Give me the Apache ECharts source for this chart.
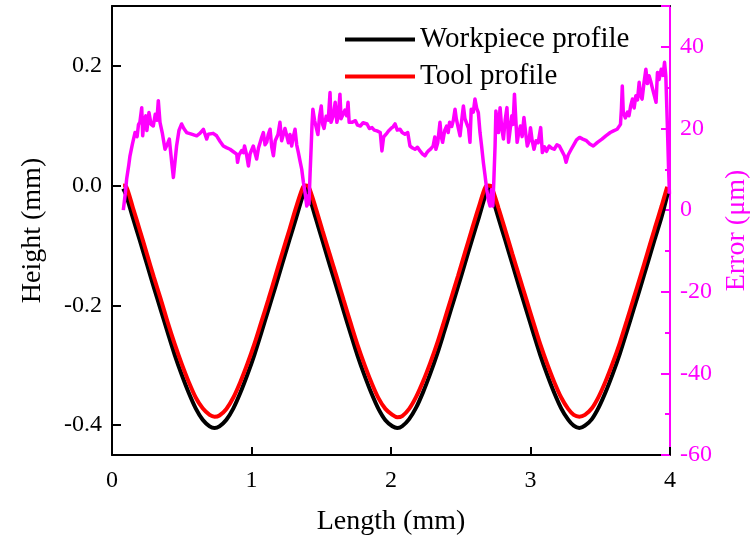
<!DOCTYPE html>
<html>
<head>
<meta charset="utf-8">
<script src="https://cdn.jsdelivr.net/npm/echarts@6/dist/echarts.min.js"></script>
<style>html,body{margin:0;padding:0;background:#fff}#c{width:751px;height:541px}</style>
</head>
<body>
<div id="c"></div>
<script>
// ---- data ----
const xTicks = [0, 1, 2, 3, 4];
const heightTicks = [-0.4, -0.2, 0.0, 0.2];
const errorTicks = [-60, -40, -20, 0, 20, 40];

const workX = [0.08,0.10,0.15,0.20,0.25,0.30,0.35,0.40,0.45,0.50,0.55,0.60,0.65,0.70,0.735,0.77,0.82,0.87,0.92,0.97,1.02,1.07,1.12,1.17,1.22,1.27,1.32,1.37,1.39,
  1.41,1.46,1.51,1.56,1.61,1.66,1.71,1.76,1.81,1.86,1.91,1.96,2.01,2.045,2.08,2.13,2.18,2.23,2.28,2.33,2.38,2.43,2.48,2.53,2.58,2.63,2.68,2.70,
  2.72,2.77,2.82,2.87,2.92,2.97,3.02,3.07,3.12,3.17,3.22,3.27,3.31,3.35,3.39,3.44,3.49,3.54,3.59,3.64,3.69,3.74,3.79,3.84,3.89,3.94,3.985];
const workY = [-0.005,-0.015,-0.054,-0.092,-0.131,-0.170,-0.208,-0.246,-0.283,-0.316,-0.346,-0.372,-0.391,-0.402,-0.405,-0.402,-0.391,-0.372,-0.346,-0.316,-0.283,-0.246,-0.208,-0.170,-0.131,-0.092,-0.054,-0.015,-0.005,
  -0.015,-0.054,-0.093,-0.132,-0.170,-0.209,-0.247,-0.284,-0.317,-0.347,-0.373,-0.392,-0.402,-0.405,-0.402,-0.390,-0.371,-0.345,-0.315,-0.282,-0.245,-0.207,-0.169,-0.130,-0.091,-0.053,-0.014,-0.005,
  -0.015,-0.054,-0.092,-0.131,-0.170,-0.208,-0.246,-0.283,-0.316,-0.346,-0.372,-0.391,-0.401,-0.405,-0.401,-0.390,-0.370,-0.344,-0.314,-0.281,-0.244,-0.206,-0.168,-0.129,-0.090,-0.052,-0.012];

const toolX = [0.08,0.10,0.15,0.20,0.25,0.30,0.35,0.40,0.45,0.50,0.55,0.60,0.65,0.70,0.735,0.77,0.82,0.87,0.92,0.97,1.02,1.07,1.12,1.17,1.22,1.27,1.32,1.37,1.39,
  1.41,1.46,1.51,1.56,1.61,1.66,1.71,1.76,1.81,1.86,1.91,1.96,2.01,2.045,2.08,2.13,2.18,2.23,2.28,2.33,2.38,2.43,2.48,2.53,2.58,2.63,2.68,2.70,
  2.72,2.77,2.82,2.87,2.92,2.97,3.02,3.07,3.12,3.17,3.22,3.27,3.31,3.35,3.39,3.44,3.49,3.54,3.59,3.64,3.69,3.74,3.79,3.84,3.89,3.94,3.98];
const toolY = [0.000,-0.001,-0.037,-0.075,-0.114,-0.153,-0.190,-0.229,-0.265,-0.298,-0.328,-0.354,-0.372,-0.383,-0.386,-0.384,-0.373,-0.354,-0.328,-0.298,-0.265,-0.228,-0.191,-0.152,-0.113,-0.075,-0.036,-0.002,0.000,
  -0.002,-0.037,-0.076,-0.114,-0.152,-0.191,-0.229,-0.266,-0.299,-0.329,-0.355,-0.373,-0.383,-0.387,-0.385,-0.373,-0.353,-0.327,-0.297,-0.264,-0.227,-0.189,-0.151,-0.112,-0.073,-0.035,-0.001,0.000,
  -0.002,-0.037,-0.075,-0.114,-0.152,-0.190,-0.228,-0.265,-0.298,-0.328,-0.354,-0.373,-0.383,-0.386,-0.383,-0.372,-0.352,-0.326,-0.296,-0.263,-0.226,-0.188,-0.150,-0.111,-0.072,-0.034,-0.002];

const errX = [0.081,0.095,0.105,0.12,0.129,0.145,0.165,0.18,0.19,0.2,0.213,0.22,0.23,0.242,0.25,0.265,0.28,0.296,0.31,0.322,0.332,0.344,0.36,0.38,0.395,0.411,0.428,0.44,0.452,0.463,0.48,0.499,0.515,0.535,0.57,0.607,0.63,0.655,0.668,0.679,0.69,0.703,0.725,0.75,0.775,0.798,0.82,0.846,0.87,0.894,0.90,0.91,0.93,0.942,0.95,0.965,0.978,0.99,1.013,1.025,1.037,1.05,1.07,1.085,1.097,1.109,1.12,1.133,1.145,1.157,1.17,1.19,1.204,1.216,1.228,1.24,1.252,1.265,1.276,1.288,1.30,1.312,1.324,1.336,1.348,1.36,1.372,1.384,1.396,1.405,1.412,1.42,1.428,1.434,1.44,1.452,1.464,1.476,1.488,1.50,1.51,1.52,1.535,1.55,1.563,1.57,1.585,1.60,1.612,1.622,1.634,1.642,1.655,1.67,1.682,1.692,1.70,1.72,1.745,1.76,1.78,1.80,1.828,1.845,1.864,1.88,1.90,1.923,1.935,1.947,1.965,1.982,2.0,2.015,2.029,2.045,2.065,2.08,2.1,2.12,2.136,2.155,2.172,2.19,2.208,2.225,2.244,2.256,2.268,2.285,2.302,2.314,2.322,2.335,2.351,2.36,2.37,2.385,2.399,2.41,2.42,2.435,2.447,2.459,2.468,2.483,2.495,2.507,2.519,2.53,2.545,2.556,2.566,2.575,2.59,2.602,2.614,2.626,2.638,2.65,2.662,2.674,2.686,2.698,2.71,2.72,2.73,2.738,2.746,2.752,2.758,2.77,2.782,2.794,2.806,2.818,2.831,2.843,2.855,2.866,2.875,2.885,2.895,2.904,2.916,2.928,2.94,2.953,2.965,2.977,2.99,3.0,3.012,3.025,3.04,3.055,3.073,3.085,3.10,3.115,3.134,3.15,3.17,3.19,3.207,3.225,3.243,3.255,3.27,3.292,3.31,3.33,3.352,3.375,3.401,3.425,3.45,3.48,3.512,3.54,3.572,3.595,3.621,3.645,3.652,3.658,3.665,3.68,3.695,3.706,3.718,3.731,3.743,3.755,3.767,3.779,3.79,3.80,3.813,3.827,3.838,3.85,3.862,3.875,3.888,3.90,3.91,3.922,3.937,3.95,3.961,3.97,3.98,3.99,3.996];
const errY = [0,4,7.6,11,13.3,16,19,18,21,21.5,25.1,18.2,22,23.1,19.5,23.9,21,20.6,23.5,22,26.8,21.5,19,14.9,16,17.4,11.7,8.0,12,15.7,19.5,21.1,20,19.0,18.6,18.2,18.8,19.8,18.5,17.4,18.6,19.0,18.8,18.2,16.8,15.7,15.3,14.9,14.3,13.7,11.7,13.5,14.6,14.1,15.7,13.5,10.8,13.8,15.7,14,12.5,15.2,17.5,19.0,16,16.6,18.5,19.8,15.5,13.3,17,18.5,21.5,17,17.4,20,19.8,16.5,18.5,15.7,18,19.8,16,14.1,12,10.0,6.8,4.3,1.0,3.5,1.5,9,15.7,21,24.7,22,22.4,18.5,23,25.5,21,20,23,22,28.8,21.5,23,26.4,21.5,23,28.4,22.4,22,24.5,23.1,26.4,21.5,21.5,21.9,20.8,20.6,21.4,21.1,20,20.2,19.6,19.4,19.0,14.5,17.9,18.6,19.4,20,20.4,21.1,19.6,19.8,19,18.6,19,15.7,15.2,14.9,15.4,14.5,13.8,13.3,14,14.5,15,15.7,17.9,14.9,16.5,21.5,18,16.6,19.5,20.6,19,21.5,20.5,22,24.7,22.4,20,18.2,22,25.5,22.4,21,20,16.6,24.7,24,27.2,25,23.9,19.0,15.5,11.7,8.5,5.1,2.5,1.0,5,1.0,8,15.7,24.3,24.7,19.0,25.1,20,17.4,22,25.1,16.6,20,23.1,21,28.4,22,16.6,19,20.6,18,22.7,19,15.7,17,20.2,17,14.9,17,16.5,20.2,14.1,15.5,14.4,15.7,15.2,14.9,16,15.7,14.5,13.3,11.7,13.5,14.9,16,17.2,17.8,17.4,17.0,16.2,15.7,16.6,17.4,18.2,19.0,19.4,19.8,21,25,30.4,24,22.6,24,23.1,25.5,27.2,25,28,27,31.3,28,27.2,31,34.5,31,32.9,31.5,29.7,28,26.4,33.7,32,34.5,33,36.2,32.9,22,10,4];

const seriesNames = ['Workpiece profile', 'Tool profile', 'Error'];

const pairs = (xs, ys) => xs.map((x, i) => [x, ys[i]]);
const FONT = "'Liberation Serif', 'Times New Roman', serif";
const MAG = '#ff00ff';

const chart = echarts.init(document.getElementById('c'), null, {renderer: 'canvas'});
chart.setOption({
  animation: false,
  backgroundColor: '#fff',
  grid: {left: 112, right: 81, top: 6, bottom: 86, containLabel: false, outerBoundsMode: 'none'},
  legend: {
    orient: 'vertical', left: 340, top: 20, itemGap: 8,
    itemWidth: 70, itemHeight: 4,
    textStyle: {fontFamily: FONT, fontSize: 29, color: '#000'},
    data: [{name: seriesNames[0], icon: 'rect'}, {name: seriesNames[1], icon: 'rect'}]
  },
  xAxis: [{
    type: 'value', min: 0, max: 4, interval: 1, position: 'bottom',
    name: 'Length (mm)', nameLocation: 'middle', nameGap: 53,
    nameTextStyle: {fontFamily: FONT, fontSize: 28, color: '#000'},
    axisLine: {show: true, onZero: false, lineStyle: {color: '#000', width: 2}},
    axisTick: {show: true, inside: true, length: 8, lineStyle: {color: '#000', width: 2}},
    axisLabel: {fontFamily: FONT, fontSize: 24, color: '#000', margin: 14,
      customValues: xTicks, formatter: v => String(v)},
    splitLine: {show: false}
  }, {
    type: 'value', min: 0, max: 4, position: 'top',
    axisLine: {show: true, onZero: false, lineStyle: {color: '#000', width: 2}},
    axisTick: {show: false}, axisLabel: {show: false}, splitLine: {show: false}
  }],
  yAxis: [{
    type: 'value', min: -0.45, max: 0.3, position: 'left',
    name: 'Height (mm)', nameLocation: 'middle', nameGap: 65, nameRotate: 90,
    nameTextStyle: {fontFamily: FONT, fontSize: 28, color: '#000'},
    axisLine: {show: true, onZero: false, lineStyle: {color: '#000', width: 2}},
    axisTick: {show: true, inside: true, length: 9, customValues: heightTicks, lineStyle: {color: '#000', width: 2}},
    axisLabel: {fontFamily: FONT, fontSize: 24, color: '#000', margin: 10,
      customValues: heightTicks, formatter: v => v.toFixed(1)},
    splitLine: {show: false}
  }, {
    type: 'value', min: -60, max: 50, interval: 20, position: 'right', alignTicks: false,
    name: 'Error (\u03bcm)', nameLocation: 'middle', nameGap: 49, nameRotate: 90,
    nameTextStyle: {fontFamily: FONT, fontSize: 28, color: MAG},
    axisLine: {show: true, onZero: false, lineStyle: {color: MAG, width: 2}},
    axisTick: {show: true, inside: true, length: 9, lineStyle: {color: MAG, width: 2}},
    minorTick: {show: true, splitNumber: 2, length: 5, lineStyle: {color: MAG, width: 2}},
    axisLabel: {fontFamily: FONT, fontSize: 24, color: MAG, margin: 10,
      customValues: errorTicks, formatter: v => String(v)},
    splitLine: {show: false}
  }],
  series: [{
    name: seriesNames[0], type: 'line', xAxisIndex: 0, yAxisIndex: 0,
    data: pairs(workX, workY), showSymbol: false, smooth: 0.3, z: 2,
    lineStyle: {color: '#000', width: 4}, itemStyle: {color: '#000'}
  }, {
    name: seriesNames[1], type: 'line', xAxisIndex: 0, yAxisIndex: 0,
    data: pairs(toolX, toolY), showSymbol: false, smooth: 0.3, z: 3,
    lineStyle: {color: '#ff0000', width: 4}, itemStyle: {color: '#ff0000'}
  }, {
    name: seriesNames[2], type: 'line', xAxisIndex: 0, yAxisIndex: 1,
    data: pairs(errX, errY), showSymbol: false, z: 4,
    lineStyle: {color: MAG, width: 3.5, join: 'round'}, itemStyle: {color: MAG}
  }]
});
</script>
</body>
</html>
